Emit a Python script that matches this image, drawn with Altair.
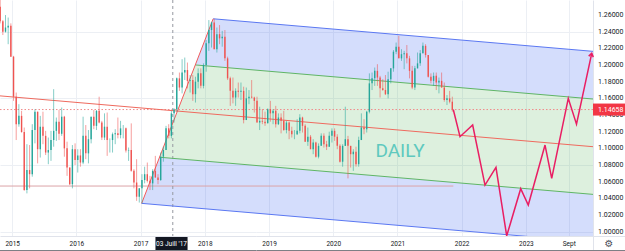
import math
import altair as alt
import pandas as pd

# ---------------- data (EUR/USD, half-month candles) ----------------
first_open = 1.2700
closes = [
    # 2014 (Oct H2 .. Dec H2)
    1.2525, 1.2400, 1.2450, 1.2470, 1.2100,
    # 2015
    1.1620, 1.1290, 1.1390, 1.1195, 1.0500, 1.0740, 1.0690, 1.1220, 1.1440, 1.0990, 1.1260, 1.1150,
    1.0950, 1.0980, 1.1100, 1.1210, 1.1320, 1.1175, 1.1380, 1.1000, 1.0770, 1.0570, 1.0990, 1.0860,
    # 2016
    1.0915, 1.0830, 1.1150, 1.0940, 1.1110, 1.1380, 1.1270, 1.1450, 1.1310, 1.1130, 1.1260, 1.1100,
    1.1100, 1.1170, 1.1180, 1.1160, 1.1240, 1.1240, 1.0975, 1.0980, 1.0730, 1.0590, 1.0420, 1.0520,
    # 2017
    1.0620, 1.0690, 1.0610, 1.0580, 1.0730, 1.0650, 1.0620, 1.0900, 1.0980, 1.1240, 1.1150, 1.1420,
    1.1470, 1.1840, 1.1730, 1.1910, 1.1940, 1.1810, 1.1820, 1.1650, 1.1800, 1.1900, 1.1750, 1.2000,
    # 2018
    1.2260, 1.2420, 1.2510, 1.2190, 1.2370, 1.2320, 1.2340, 1.2080, 1.1840, 1.1690, 1.1610, 1.1690,
    1.1680, 1.1690, 1.1340, 1.1600, 1.1620, 1.1610, 1.1570, 1.1310, 1.1330, 1.1320, 1.1300, 1.1470,
    # 2019
    1.1420, 1.1450, 1.1290, 1.1370, 1.1330, 1.1220, 1.1310, 1.1210, 1.1170, 1.1170, 1.1210, 1.1370,
    1.1270, 1.1080, 1.1140, 1.0990, 1.1070, 1.0900, 1.1030, 1.1150, 1.1050, 1.1020, 1.1150, 1.1210,
    # 2020
    1.1140, 1.1030, 1.0840, 1.1030, 1.1110, 1.1030, 1.0930, 1.0960, 1.0810, 1.1100, 1.1250, 1.1230,
    1.1440, 1.1780, 1.1840, 1.1930, 1.1850, 1.1720, 1.1700, 1.1650, 1.1830, 1.1960, 1.2160, 1.2220,
    # 2021 (Jan H1 .. Nov H1)
    1.2080, 1.2130, 1.2140, 1.2080, 1.1930, 1.1730, 1.1960, 1.2020, 1.2140, 1.2230, 1.2120, 1.1860,
    1.1810, 1.1870, 1.1790, 1.1810, 1.1730, 1.1580, 1.1600, 1.1560, 1.1466,
]
highs = [
    1.2800, 1.2540, 1.2600, 1.2570, 1.2500,
    1.2110, 1.1670, 1.1530, 1.1450, 1.1250, 1.1050, 1.1040, 1.1290, 1.1470, 1.1440, 1.1390, 1.1440,
    1.1210, 1.1130, 1.1210, 1.1710, 1.1370, 1.1460, 1.1490, 1.1390, 1.1080, 1.0770, 1.1040, 1.1060,
    1.0990, 1.0990, 1.1380, 1.1280, 1.1220, 1.1380, 1.1460, 1.1460, 1.1620, 1.1330, 1.1420, 1.1430,
    1.1120, 1.1190, 1.1230, 1.1370, 1.1330, 1.1280, 1.1250, 1.1010, 1.1300, 1.0750, 1.0870, 1.0480,
    1.0690, 1.0780, 1.0830, 1.0670, 1.0750, 1.0910, 1.0690, 1.0950, 1.1020, 1.1270, 1.1290, 1.1450,
    1.1480, 1.1850, 1.1910, 1.2070, 1.2090, 1.2030, 1.1880, 1.1880, 1.1860, 1.1960, 1.1960, 1.2020,
    1.2300, 1.2540, 1.2520, 1.2555, 1.2450, 1.2480, 1.2410, 1.2420, 1.2100, 1.1860, 1.1850, 1.1720,
    1.1790, 1.1790, 1.1740, 1.1730, 1.1700, 1.1820, 1.1620, 1.1620, 1.1500, 1.1470, 1.1440, 1.1480,
    1.1570, 1.1470, 1.1510, 1.1420, 1.1420, 1.1450, 1.1330, 1.1320, 1.1260, 1.1220, 1.1350, 1.1410,
    1.1380, 1.1290, 1.1250, 1.1160, 1.1110, 1.1080, 1.1060, 1.1180, 1.1180, 1.1090, 1.1200, 1.1240,
    1.1240, 1.1170, 1.1050, 1.1050, 1.1500, 1.1150, 1.1030, 1.0990, 1.1020, 1.1140, 1.1420, 1.1350,
    1.1450, 1.1900, 1.1910, 1.1970, 1.2010, 1.1870, 1.1830, 1.1880, 1.1920, 1.1960, 1.2180, 1.2270,
    1.2350, 1.2190, 1.2170, 1.2240, 1.2110, 1.1990, 1.1990, 1.2150, 1.2180, 1.2270, 1.2250, 1.2120,
    1.1900, 1.1910, 1.1910, 1.1850, 1.1910, 1.1790, 1.1640, 1.1690, 1.1620,
]
lows = [
    1.2500, 1.2360, 1.2390, 1.2250, 1.2100,
    1.1570, 1.1100, 1.1260, 1.1190, 1.0490, 1.0460, 1.0520, 1.0660, 1.1060, 1.0820, 1.0890, 1.1050,
    1.0920, 1.0810, 1.0850, 1.1020, 1.1090, 1.1100, 1.1150, 1.0900, 1.0670, 1.0560, 1.0520, 1.0800,
    1.0710, 1.0780, 1.0810, 1.0870, 1.0820, 1.1060, 1.1230, 1.1220, 1.1300, 1.1100, 1.1100, 1.0910,
    1.0950, 1.0950, 1.1050, 1.1120, 1.1120, 1.1120, 1.0950, 1.0850, 1.0720, 1.0520, 1.0370, 1.0350,
    1.0340, 1.0580, 1.0590, 1.0500, 1.0500, 1.0650, 1.0570, 1.0610, 1.0840, 1.0980, 1.1120, 1.1120,
    1.1310, 1.1440, 1.1690, 1.1660, 1.1820, 1.1720, 1.1670, 1.1570, 1.1550, 1.1720, 1.1720, 1.1720,
    1.1920, 1.2170, 1.2210, 1.2190, 1.2150, 1.2250, 1.2220, 1.2050, 1.1820, 1.1510, 1.1540, 1.1510,
    1.1610, 1.1580, 1.1300, 1.1340, 1.1530, 1.1600, 1.1430, 1.1310, 1.1220, 1.1290, 1.1270, 1.1300,
    1.1320, 1.1290, 1.1250, 1.1280, 1.1180, 1.1210, 1.1180, 1.1110, 1.1130, 1.1110, 1.1160, 1.1180,
    1.1190, 1.1080, 1.1030, 1.0990, 1.0930, 1.0890, 1.0880, 1.1030, 1.1010, 1.0980, 1.1020, 1.1070,
    1.1090, 1.0990, 1.0830, 1.0780, 1.1030, 1.0640, 1.0770, 1.0730, 1.0780, 1.0780, 1.1100, 1.1170,
    1.1190, 1.1420, 1.1700, 1.1750, 1.1750, 1.1610, 1.1690, 1.1640, 1.1600, 1.1780, 1.1920, 1.2130,
    1.2080, 1.2050, 1.1950, 1.2020, 1.1840, 1.1710, 1.1700, 1.1960, 1.1990, 1.2140, 1.2090, 1.1850,
    1.1780, 1.1750, 1.1700, 1.1660, 1.1730, 1.1560, 1.1520, 1.1540, 1.1440,
]

# pitchfork pivots (decimal year, price)
p1 = (2014.81, 1.1630)   # handle, enters at the left edge
p2 = (2018.13, 1.2555)   # Feb 2018 high
p3 = (2017.016, 1.0340)  # Jan 2017 low

# projected path (decimal year, price)
proj_t = [2021.869, 2021.974, 2022.171, 2022.363, 2022.534, 2022.701, 2022.919,
          2023.037, 2023.298, 2023.402, 2023.660, 2023.788, 2024.025]
proj_p = [1.1466, 1.1140, 1.1280, 1.0560, 1.0773, 0.9950, 1.0516,
          1.0320, 1.1040, 1.0640, 1.1600, 1.1290, 1.2140]

current_price = 1.14658
support_price = 1.0548
support_end = 2021.87
cross_date = 2017.501
cross_label = "03 Juill '17"
y_ticks = [1.00, 1.02, 1.04, 1.06, 1.08, 1.10, 1.12, 1.14, 1.16, 1.18, 1.20, 1.22, 1.24, 1.26, 1.28]
x_ticks = [2015, 2016, 2017, 2018, 2019, 2020, 2021, 2022, 2023, 2023.667]

# ---------------- layout ----------------
X0, X1 = 2014.81, 2024.045
Y0, Y1 = 0.99484, 1.27804
W, H = 593, 236
XEND = 2024.3

xs = alt.Scale(domain=[X0, X1], nice=False, zero=False)
ys = alt.Scale(domain=[Y0, Y1], nice=False, zero=False)


def X(f):
    return alt.X(f, scale=xs, title=None)


def Y(f):
    return alt.Y(f, scale=ys, title=None)


# period centres (half months, starting Oct H2 2014)
times = []
yy, mm, hh = 2014, 10, 1
for _ in closes:
    times.append(yy + (mm - 1 + (0.25 if hh == 0 else 0.75)) / 12)
    if hh == 0:
        hh = 1
    else:
        hh = 0
        mm += 1
        if mm > 12:
            mm = 1
            yy += 1
opens = [first_open] + closes[:-1]
candles = pd.DataFrame({
    "t": times, "open": opens, "close": closes,
    "high": [max(h, o, c) for h, o, c in zip(highs, opens, closes)],
    "low": [min(l, o, c) for l, o, c in zip(lows, opens, closes)],
})
candles["dir"] = ["up" if c >= o else "down" for o, c in zip(opens, closes)]

# pitchfork geometry
M = ((p2[0] + p3[0]) / 2, (p2[1] + p3[1]) / 2)
slope = (M[1] - p1[1]) / (M[0] - p1[0])


def anchor(k):
    return (M[0] + k * (p2[0] - M[0]), M[1] + k * (p2[1] - M[1]))


def line_at(k, t):
    a = anchor(k)
    return a[1] + slope * (t - a[0])


def band_df(kb, kt):
    b, tp = anchor(kb), anchor(kt)
    return pd.DataFrame({
        "t": [b[0], tp[0], XEND],
        "top": [b[1], tp[1], line_at(kt, XEND)],
        "bot": [b[1], line_at(kb, tp[0]), line_at(kb, XEND)],
    })


def line_df(k, start=None):
    a = anchor(k)
    t0 = a[0] if start is None else start
    return pd.DataFrame({"t": [t0, XEND], "p": [line_at(k, t0), line_at(k, XEND)]})


BLUE_FILL, GREEN_FILL = "#3d63f2", "#4caf50"
BLUE_LINE, GREEN_LINE, RED_LINE = "#5b78f2", "#5fb566", "#ef6a5e"


def band(kb, kt, color, op):
    return alt.Chart(band_df(kb, kt)).mark_area(color=color, opacity=op, clip=True).encode(
        x=X("t:Q"), y=Y("top:Q"), y2="bot:Q")


def pline(df, color, width=1.0):
    return alt.Chart(df).mark_line(color=color, strokeWidth=width, clip=True).encode(
        x=X("t:Q"), y=Y("p:Q"))


# axes + grid layer (y labels drawn as text below)
axis_base = alt.Chart(pd.DataFrame({"t": [X0], "p": [Y0]})).mark_point(opacity=0).encode(
    x=alt.X("t:Q", scale=xs, title=None, axis=alt.Axis(
        values=x_ticks, labelExpr="datum.value > 2023.5 ? 'Sept' : format(datum.value, 'd')",
        grid=True, gridColor="#eceff4", ticks=False, tickSize=0, domainColor="#e0e3eb",
        labelColor="#131722", labelFontSize=6.5, labelPadding=4, labelFont="Roboto",
        labelFlush=False, labelOverlap=False)),
    y=alt.Y("p:Q", scale=ys, title=None, axis=alt.Axis(
        orient="right", values=y_ticks, grid=True, gridColor="#eceff4", labels=False,
        ticks=False, tickSize=0, domainColor="#e0e3eb")),
)

layers = [axis_base,
          band(0.5, 1, BLUE_FILL, 0.22),
          band(0, 0.5, GREEN_FILL, 0.19),
          band(-0.5, 0, GREEN_FILL, 0.19),
          band(-1, -0.5, BLUE_FILL, 0.22)]

# horizontal support + current price line + crosshair
layers.append(alt.Chart(pd.DataFrame({"t": [X0], "t2": [support_end], "p": [support_price]}))
              .mark_rule(color="#dba3a8", strokeWidth=1).encode(x=X("t:Q"), x2="t2:Q", y=Y("p:Q")))
layers.append(alt.Chart(pd.DataFrame({"p": [current_price]})).mark_rule(
    color="#f08a8a", strokeWidth=1, strokeDash=[1.5, 2]).encode(y=Y("p:Q")))
layers.append(alt.Chart(pd.DataFrame({"t": [cross_date]})).mark_rule(
    color="#9598a1", strokeWidth=1, strokeDash=[3, 3]).encode(x=X("t:Q")))

# pitchfork lines
layers += [
    pline(line_df(1), BLUE_LINE),
    pline(line_df(0.5), GREEN_LINE),
    pline(line_df(0, start=p1[0]), RED_LINE),
    pline(line_df(-0.5), GREEN_LINE),
    pline(line_df(-1), BLUE_LINE),
    pline(pd.DataFrame({"t": [p3[0], p2[0]], "p": [p3[1], p2[1]]}), "#f25a5a"),
]

# candles
col = alt.Color("dir:N", scale=alt.Scale(domain=["up", "down"], range=["#26a69a", "#ef5350"]), legend=None)
layers.append(alt.Chart(candles).mark_rule(strokeWidth=0.7, opacity=0.8, clip=True).encode(
    x=X("t:Q"), y=Y("low:Q"), y2="high:Q", color=col))
layers.append(alt.Chart(candles).mark_rule(strokeWidth=1.4, clip=True).encode(
    x=X("t:Q"), y=Y("open:Q"), y2="close:Q", color=col))

# projection
proj = pd.DataFrame({"t": proj_t, "p": proj_p, "i": list(range(len(proj_t)))})
layers.append(alt.Chart(proj).mark_line(color="#e91e63", strokeWidth=1.5, clip=False).encode(
    x=X("t:Q"), y=Y("p:Q"), order="i:Q"))
dxp = (proj_t[-1] - proj_t[-2]) * W / (X1 - X0)
dyp = (proj_p[-1] - proj_p[-2]) * H / (Y1 - Y0)
ang = math.degrees(math.atan2(dxp, dyp)) % 360
layers.append(alt.Chart(proj.tail(1)).mark_point(
    shape="M-0.7,1L0,0L0.7,1", size=45, filled=False, color="#e91e63", strokeWidth=1.5,
    angle=ang, opacity=1).encode(x=X("t:Q"), y=Y("p:Q")))

# DAILY text
layers.append(alt.Chart(pd.DataFrame({"t": [2021.04], "p": [1.0974], "s": ["DAILY"]})).mark_text(
    fontSize=19, font="Roboto", color="#5fc9be", align="center", baseline="middle").encode(
    x=X("t:Q"), y=Y("p:Q"), text="s:N"))

# price-scale labels
ylab = pd.DataFrame({"p": y_ticks, "s": [f"{v:.5f}" for v in y_ticks]})
layers.append(alt.Chart(ylab).mark_text(
    fontSize=7, font="Roboto", color="#131722", align="left", baseline="middle").encode(
    x=alt.value(598), y=Y("p:Q"), text="s:N"))

# frame bits outside the plot
layers.append(alt.Chart(pd.DataFrame({"a": [0]})).mark_rule(color="#e0e3eb").encode(
    x=alt.value(593), x2=alt.value(625), y=alt.value(236.5)))
layers.append(alt.Chart(pd.DataFrame({"a": [0]})).mark_rule(color="#e0e3eb").encode(
    x=alt.value(593.5), y=alt.value(236), y2=alt.value(251)))
layers.append(alt.Chart(pd.DataFrame({"a": [0]})).mark_rule(color="#7d7f85", strokeWidth=1).encode(
    x=alt.value(0), x2=alt.value(625), y=alt.value(250.5)))
layers.append(alt.Chart(pd.DataFrame({"s": ["\u2699"]})).mark_text(
    fontSize=10, font="DejaVu Sans", color="#50535e", align="center", baseline="middle").encode(
    x=alt.value(609), y=alt.value(243.5), text="s:N"))

# crosshair date label
layers.append(alt.Chart(pd.DataFrame({"t": [cross_date - 0.27], "t2": [cross_date + 0.23]})).mark_rect(
    color="#131722").encode(x=X("t:Q"), x2="t2:Q", y=alt.value(237), y2=alt.value(250)))
layers.append(alt.Chart(pd.DataFrame({"t": [cross_date - 0.02], "s": [cross_label]})).mark_text(
    fontSize=6.5, font="Roboto", color="white", align="center", baseline="middle").encode(
    x=X("t:Q"), y=alt.value(243.5), text="s:N"))

# current price label
layers.append(alt.Chart(pd.DataFrame({"p": [current_price + 0.0072], "p2": [current_price - 0.0072]})).mark_rect(
    color="#f23645").encode(x=alt.value(593), x2=alt.value(625), y=Y("p:Q"), y2="p2:Q"))
layers.append(alt.Chart(pd.DataFrame({"p": [current_price], "s": [f"{current_price:.5f}"]})).mark_text(
    fontSize=7, font="Roboto", color="white", align="left", baseline="middle").encode(
    x=alt.value(598), y=Y("p:Q"), text="s:N"))

chart = alt.layer(*layers).properties(
    width=W, height=H,
    autosize=alt.AutoSizeParams(type="none"),
    padding={"left": 0, "top": 0, "right": 32, "bottom": 15},
    background="white",
).configure_view(stroke=None)

chart.save("out.html", embed_options={"renderer": "svg", "actions": False})
